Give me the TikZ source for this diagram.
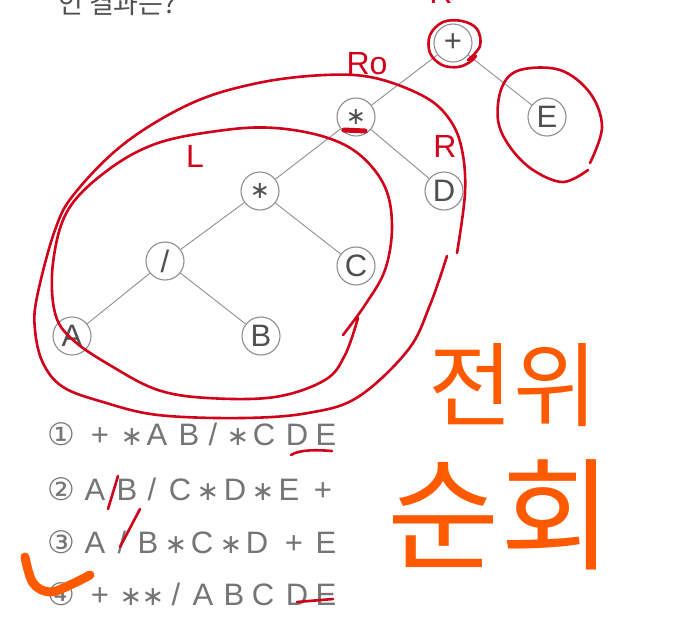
\documentclass[tikz,border=0pt]{standalone}
\usepackage{fontspec}
\setmainfont{Liberation Sans}
\newfontfamily\dejavu{DejaVu Sans}
\newfontfamily\krfont{Noto Sans CJK KR}
\definecolor{nodegray}{HTML}{8E8E8E}
\definecolor{txtgray}{HTML}{505050}
\definecolor{optgray}{HTML}{757575}
\definecolor{penred}{HTML}{D0021B}
\definecolor{penorange}{HTML}{FF5A00}
\newcommand{\mystar}{{\dejavu\fontsize{27}{27}\selectfont ∗}}
\newcommand{\treestar}{{\dejavu\fontsize{24}{24}\selectfont ∗}}
\newcommand{\myslash}{/}
\begin{document}
\begin{tikzpicture}[x=1pt,y=-1pt,
  tnode/.style={circle,draw=nodegray,line width=1.1pt,fill=white,minimum size=38pt,inner sep=0pt,text=txtgray,font=\fontsize{31}{31}\selectfont},
  edge/.style={draw=nodegray,line width=0.9pt},
  redpen/.style={draw=penred,line width=2.6pt,line cap=round,line join=round},
  orpen/.style={draw=penorange,line width=9pt,line cap=round,line join=round},
  optglyph/.style={anchor=base,inner sep=0pt,text=optgray,font=\fontsize{31}{31}\selectfont},
  redlabel/.style={text=penred,inner sep=0pt,font=\fontsize{32}{32}\selectfont}]
\useasboundingbox (0,0) rectangle (677,622);
\clip (0,0) rectangle (677,622);
\fill[white] (0,0) rectangle (677,622);

% cut-off question text
\node[anchor=base west,inner sep=0pt,text=txtgray,font=\krfont\fontsize{27}{27}\selectfont] (q) at (58,13) {인 결과는?};

% tree nodes
\node[tnode] (plus) at (453,43) {+};
\node[tnode] (m1) at (356,117) {\treestar};
\node[tnode] (e) at (547,117) {E};
\node[tnode] (m2) at (260,191) {\treestar};
\node[tnode] (d) at (444,191) {D};
\node[tnode] (div) at (165,261) {/};
\node[tnode] (c) at (356,266) {C};
\node[tnode] (a) at (72,336) {A};
\node[tnode] (b) at (261,336) {B};

\draw[edge] (plus) -- (m1);
\draw[edge] (plus) -- (e);
\draw[edge] (m1) -- (m2);
\draw[edge] (m1) -- (d);
\draw[edge] (m2) -- (div);
\draw[edge] (m2) -- (c);
\draw[edge] (div) -- (a);
\draw[edge] (div) -- (b);

% answer options
\foreach \x/\c [count=\i] in {61/{\dejavu ①},100/+,132/\mystar,157/A,189/B,213/\myslash,238/\mystar,264/C,297/D,326/E}
  \node[optglyph] (ra\i) at (\x,445) {\c};
\foreach \x/\c [count=\i] in {61/{\dejavu ②},95/A,127/B,152/\myslash,180/C,208/\mystar,235/D,263/\mystar,289/E,323/+}
  \node[optglyph] (rb\i) at (\x,500) {\c};
\foreach \x/\c [count=\i] in {61/{\dejavu ③},95/A,122/\myslash,148/B,176/\mystar,202/C,231/\mystar,257/D,294/+,326/E}
  \node[optglyph] (rc\i) at (\x,553) {\c};
\foreach \x/\c [count=\i] in {61/{\dejavu ④},100/+,131/\mystar,153/\mystar,176/\myslash,203/A,234/B,263/C,297/D,326/E}
  \node[optglyph] (rd\i) at (\x,605) {\c};

% red annotations
\draw[redpen] plot[smooth,tension=0.6] coordinates {(468,60) (480,46) (477,29) (462,21) (443,22) (430,35) (430,53) (442,65) (458,67) (470,62) (476,56)};
\draw[redpen] plot[smooth,tension=0.6] coordinates {(590,163) (602,127) (590,93) (560,70) (520,70) (502,87) (498,120) (510,147) (533,170) (563,182) (588,170)};
\draw[redpen] plot[smooth,tension=0.6] coordinates {(447,256) (430,305) (408,350) (358,397) (308,413) (242,418) (158,415) (103,402) (63,387) (43,363) (35,330) (37,297) (55,230) (75,193) (125,143) (192,103) (258,83) (325,75) (375,78) (425,97) (450,120) (462,150) (465,193) (457,253)};
\draw[redpen] plot[smooth,tension=0.6] coordinates {(343,335) (365,305) (385,270) (392,227) (385,187) (360,155) (325,137) (275,128) (225,130) (158,143) (108,170) (68,210) (53,263) (55,313) (73,340) (113,367) (158,390) (208,398) (275,397) (325,380) (345,355) (358,318)};
\draw[redpen,line width=5pt] (344,130) -- (365,131);
\draw[redpen] (291,455) .. controls (300,449) and (320,450) .. (332,451);
\draw[redpen] (108,509) -- (118,476);
\draw[redpen] (120,547) -- (140,509);
\draw[redpen] (297,602) -- (333,599);

\node[redlabel,anchor=south] (rtop) at (441,4) {R};
\node[redlabel] (rroot) at (367,64) {Ro};
\node[redlabel] (lleft) at (195,156) {L};
\node[redlabel] (rright) at (445,146) {R};

% orange handwriting
\draw[orpen] plot[smooth,tension=0.6] coordinates {(25,557) (33,583) (50,592) (70,585) (90,575)};
\node[text=penorange,inner sep=0pt,font=\krfont\fontsize{92}{92}\selectfont] (w1) at (513,385) {전위};
\node[text=penorange,inner sep=0pt,font=\krfont\fontsize{122}{122}\selectfont] (w2) at (500,515) {순회};
\end{tikzpicture}
\end{document}
